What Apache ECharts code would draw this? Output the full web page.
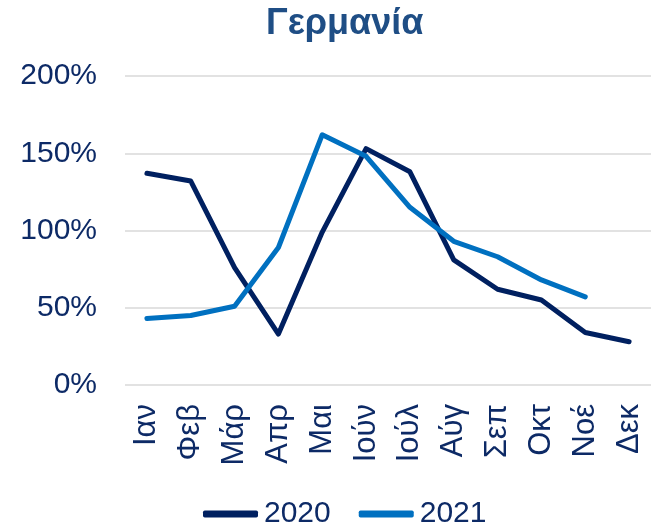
<!DOCTYPE html>
<html>
<head>
<meta charset="utf-8">
<script src="https://cdn.jsdelivr.net/npm/echarts@6/dist/echarts.min.js"></script>
<style>
  html, body { margin: 0; padding: 0; background: #fff; }
  #chart { width: 651px; height: 530px; }
</style>
</head>
<body>
<div id="chart"></div>
<script>
// μήνες
var months = ["Ιαν", "Φεβ", "Μάρ", "Απρ", "Μαι", "Ιούν", "Ιούλ", "Αύγ", "Σεπ", "Οκτ", "Νοέ", "Δεκ"];
// τιμές σε %
var data2020 = [137, 132, 76, 33, 99, 153, 138, 81, 62, 55, 34, 28];
var data2021 = [43, 45, 51, 89, 162, 148, 115, 93, 83, 68, 57];
var yTicks = [0, 50, 100, 150, 200];

var navy = "#0D2A66";

var chart = echarts.init(document.getElementById("chart"));
chart.setOption({
  animation: false,
  textStyle: { fontFamily: "Liberation Sans, Arial, sans-serif" },
  title: {
    text: "Γερμανία",
    left: 261,
    top: 1,
    textStyle: { fontSize: 36, fontWeight: "bold", color: "#1F4E85" },
  },
  grid: { left: 125, right: -6, top: 76, bottom: 145 },
  legend: {
    left: 198,
    top: 494,
    icon: "roundRect",
    itemWidth: 55,
    itemHeight: 7,
    itemGap: 28,
    textStyle: { fontSize: 30, color: navy, padding: [0, 0, 0, 1] },
    data: ["2020", "2021"],
  },
  xAxis: {
    type: "category",
    data: months,
    boundaryGap: true,
    axisLine: { show: false },
    axisTick: { show: false },
    axisLabel: { rotate: 90, margin: 19, fontSize: 31, color: navy, interval: 0 },
  },
  yAxis: {
    type: "value",
    min: yTicks[0],
    max: yTicks[yTicks.length - 1],
    interval: 50,
    axisLine: { show: false },
    axisTick: { show: false },
    axisLabel: { fontSize: 30, color: navy, margin: 28, formatter: "{value}%" },
    splitLine: { lineStyle: { color: "#D9D9D9", width: 1.5 } },
  },
  color: ["#002060", "#0070C0"],
  series: [
    {
      name: "2020",
      type: "line",
      data: data2020,
      symbol: "none",
      lineStyle: { width: 5, cap: "round", join: "round" },
    },
    {
      name: "2021",
      type: "line",
      data: data2021,
      symbol: "none",
      lineStyle: { width: 5, cap: "round", join: "round" },
    },
  ],
});
</script>
</body>
</html>
